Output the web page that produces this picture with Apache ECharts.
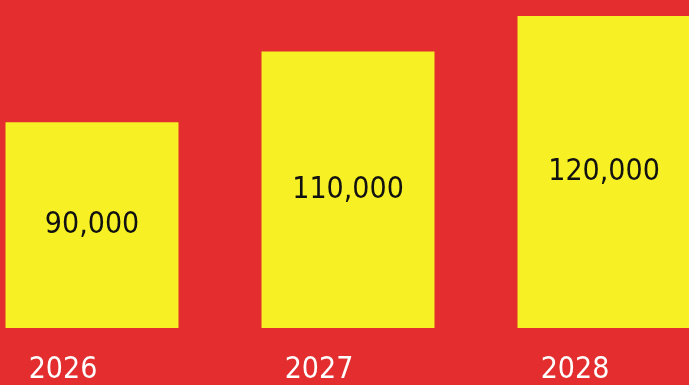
<!DOCTYPE html>
<html>
<head>
<meta charset="utf-8">
<style>
  html, body { margin: 0; padding: 0; background: #E32D2E; }
  #chart { width: 689px; height: 385px; }
</style>
<script src="https://cdn.jsdelivr.net/npm/echarts@6/dist/echarts.min.js"></script>
</head>
<body>
<div id="chart"></div>
<script>
const years = [2026, 2027, 2028];
const values = [90000, 110000, 120000];

const FONT = '"DejaVu Sans Condensed", "Roboto", sans-serif';

const seriesData = years.map((y, i) => [y, values[i]]);

const chart = echarts.init(document.getElementById('chart'), null, { renderer: 'canvas' });
chart.setOption({
  backgroundColor: '#E32D2E',
  animation: false,
  grid: { left: 0, right: 0, top: 0, bottom: 57, containLabel: false },
  xAxis: {
    type: 'value',
    min: 2025.6406,
    max: 2028.332,
    axisLine: { show: false },
    axisTick: { show: false },
    splitLine: { show: false },
    axisLabel: {
      customValues: years,
      formatter: v => String(Math.round(v)),
      color: '#FFFFFF',
      fontFamily: FONT,
      fontSize: 30,
      margin: 27,
      padding: [0, 58, 0, 0],
      align: 'center',
      showMinLabel: true,
      showMaxLabel: true
    }
  },
  yAxis: {
    type: 'value',
    min: 32000,
    max: 124500,
    show: false,
    splitLine: { show: false }
  },
  series: [{
    type: 'bar',
    data: seriesData,
    barWidth: 173,
    itemStyle: { color: '#F7F024' },
    label: {
      show: true,
      position: 'inside',
      color: '#111111',
      fontFamily: FONT,
      fontSize: 30,
      formatter: p => p.value[1].toLocaleString('en-US')
    }
  }]
});
</script>
</body>
</html>
